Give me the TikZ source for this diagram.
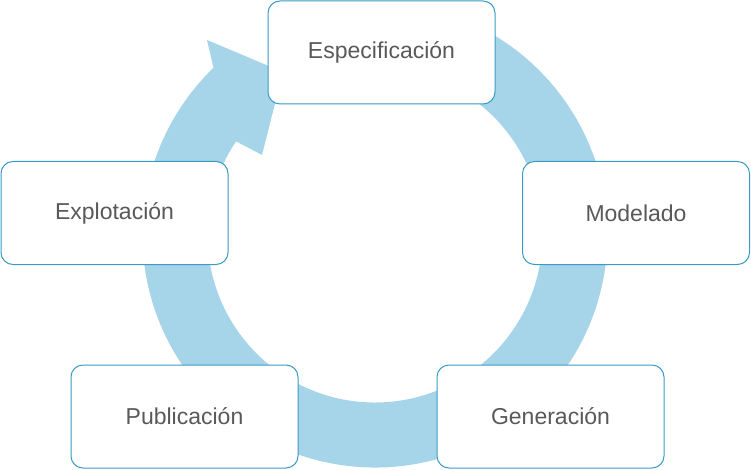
\documentclass[tikz,border=0pt]{standalone}
\usepackage{fontspec}
\usetikzlibrary{calc}
\setmainfont{Liberation Sans}
\definecolor{ringc}{HTML}{A6D5EA}
\definecolor{boxc}{HTML}{3A9BC4}
\definecolor{txt}{HTML}{595959}
\begin{document}
\begin{tikzpicture}[x=1pt,y=1pt,
  stage/.style={draw=boxc,line width=1pt,fill=white,rounded corners=12pt,minimum width=227pt,minimum height=103pt,text=txt,font=\fontsize{23}{27}\selectfont}]
\useasboundingbox (0,0) rectangle (751,-470);
\coordinate (c) at (375,-235);
\fill[ringc] (c) ++(80:232.5) arc[start angle=80,end angle=-226,radius=232.5]
  -- (207,-40) -- (283,-72) -- (262,-155) -- ($(c)+(146:167.5)$)
  arc[start angle=146,end angle=440,radius=167.5] -- cycle;
\node[stage] (e) at (381.5,-52.5) {Especificación};
\node[stage] (m) at (636,-213) {Modelado};
\node[stage] (g) at (550.5,-416.5) {Generación};
\node[stage] (p) at (184.5,-416.5) {Publicación};
\node[stage] (x) at (114.5,-213) {Explotación};
\end{tikzpicture}
\end{document}
